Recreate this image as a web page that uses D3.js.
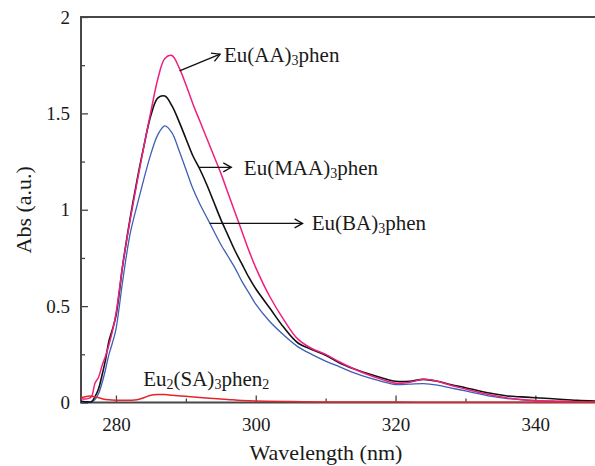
<!DOCTYPE html>
<meta charset="utf-8">
<head>
    <title>Absorption spectra</title>
    <script src="https://d3js.org/d3.v7.min.js"></script>
    <style>
        body {
            margin: 0;
            background: #fff;
        }

        svg {
            display: block;
        }

        text {
            font-family: 'Liberation Serif', 'Times New Roman', serif;
            fill: #1a1a1a;
        }

        .tick text {
            font-size: 19px;
        }

        .tick line {
            stroke: #444;
            stroke-width: 1.3;
        }

        .frame {
            stroke: #474747;
            stroke-width: 2;
        }

        text.title {
            font-size: 22px;
        }

        text.label {
            font-size: 21px;
        }

        .arrow {
            stroke: #111;
            stroke-width: 1.3;
            fill: none;
        }

        .curve {
            fill: none;
            stroke-linejoin: round;
        }
    </style>
</head>

<body>
<svg width="595" height="466"></svg>

<script>
    // wavelength grid (nm) shared by the three big spectra
    const wavelength = [275, 276, 276.5, 277, 277.5, 278, 278.5, 279, 279.5, 280,
        281, 282, 283, 284, 285, 286, 287, 288, 289, 290,
        291, 292, 293, 294, 295, 296, 297, 298, 299, 300,
        302, 304, 306, 308, 310, 312, 314, 316, 318, 320,
        322, 324, 326, 328, 330, 332, 334, 336, 338, 340,
        343, 346, 350];

    const absAA = [0.02, 0.02, 0.03, 0.10, 0.13, 0.19, 0.24, 0.30, 0.37, 0.46,
        0.72, 0.94, 1.14, 1.33, 1.51, 1.68, 1.785, 1.80, 1.74, 1.65,
        1.55, 1.46, 1.37, 1.28, 1.19, 1.09, 0.99, 0.89, 0.79, 0.70,
        0.55, 0.43, 0.33, 0.28, 0.25, 0.21, 0.175, 0.145, 0.12, 0.10,
        0.105, 0.12, 0.11, 0.088, 0.07, 0.052, 0.036, 0.024, 0.016, 0.011,
        0.007, 0.004, 0.002];

    const absMAA = [0.006, 0.003, 0.004, 0.03, 0.07, 0.14, 0.22, 0.32, 0.38, 0.45,
        0.72, 0.95, 1.15, 1.33, 1.49, 1.58, 1.59, 1.54, 1.46, 1.37,
        1.28, 1.21, 1.13, 1.04, 0.95, 0.87, 0.79, 0.72, 0.65, 0.59,
        0.49, 0.39, 0.31, 0.275, 0.245, 0.205, 0.175, 0.15, 0.128, 0.11,
        0.11, 0.12, 0.11, 0.092, 0.077, 0.06, 0.045, 0.034, 0.029, 0.025,
        0.018, 0.011, 0.006];

    const absBA = [0, 0, 0.003, 0.015, 0.045, 0.10, 0.17, 0.25, 0.31, 0.38,
        0.64, 0.87, 1.02, 1.16, 1.29, 1.39, 1.435, 1.40, 1.31, 1.21,
        1.11, 1.03, 0.96, 0.89, 0.82, 0.76, 0.70, 0.63, 0.57, 0.51,
        0.42, 0.35, 0.29, 0.25, 0.215, 0.185, 0.155, 0.13, 0.11, 0.093,
        0.095, 0.098, 0.09, 0.075, 0.06, 0.045, 0.03, 0.02, 0.014, 0.01,
        0.006, 0.004, 0.002];

    const wavelengthSA = [275, 276, 277, 278, 279, 280, 282, 283, 284, 285,
        286, 287, 288, 290, 292, 294, 296, 298, 300, 305,
        310, 320, 330, 340, 350];
    const absSA = [0.025, 0.033, 0.03, 0.02, 0.014, 0.012, 0.012, 0.014, 0.025, 0.038,
        0.042, 0.041, 0.038, 0.032, 0.026, 0.021, 0.016, 0.011, 0.008, 0.005,
        0.003, 0.002, 0.001, 0.001, 0.001];

    const xTicks = [280, 300, 320, 340];
    const xMinorTicks = [290, 310, 330];
    const yTicks = [0, 0.5, 1, 1.5, 2];
    const yMinorTicks = [0.25, 0.75, 1.25, 1.75];

    const svg = d3.select('svg');

    const plotLeft = 81, plotTop = 17, plotBottom = 402.5;

    const x = d3.scaleLinear().domain([275, 350]).range([plotLeft, plotLeft + 75 * 6.99]);
    const y = d3.scaleLinear().domain([0, 2]).range([plotBottom, plotTop]);

    // axes (ticks point into the plot)
    const xAxis = svg.append('g')
        .attr('transform', `translate(0, ${plotBottom})`)
        .call(d3.axisBottom(x).tickValues(xTicks).tickSize(-7).tickPadding(11).tickFormat(d3.format('d')));
    xAxis.select('.domain').remove();
    xAxis.selectAll('text').attr('dy', '0.9em');

    const xMinor = svg.append('g')
        .attr('transform', `translate(0, ${plotBottom})`)
        .call(d3.axisBottom(x).tickValues(xMinorTicks).tickSize(-4).tickFormat(''));
    xMinor.select('.domain').remove();

    const yAxis = svg.append('g')
        .attr('transform', `translate(${plotLeft}, 0)`)
        .call(d3.axisLeft(y).tickValues(yTicks).tickSize(-7).tickPadding(11).tickFormat(d => d));
    yAxis.select('.domain').remove();

    const yMinor = svg.append('g')
        .attr('transform', `translate(${plotLeft}, 0)`)
        .call(d3.axisLeft(y).tickValues(yMinorTicks).tickSize(-4).tickFormat(''));
    yMinor.select('.domain').remove();

    svg.append('path')
        .attr('class', 'frame')
        .attr('fill', 'none')
        .attr('d', `M595,${plotTop}H${plotLeft}V${plotBottom}H595`);

    // spectra
    const line = (xs, ys) => d3.line()
        .x((d, i) => x(xs[i]))
        .y(d => y(d))
        .curve(d3.curveCatmullRom.alpha(0.5))(ys);

    const series = [
        {values: absBA, xs: wavelength, color: '#3f5fb5', width: 1.3},
        {values: absMAA, xs: wavelength, color: '#111111', width: 1.6},
        {values: absAA, xs: wavelength, color: '#ee1f7f', width: 1.5},
        {values: absSA, xs: wavelengthSA, color: '#e3262b', width: 1.5}
    ];

    svg.append('clipPath').attr('id', 'plot')
        .append('rect').attr('x', plotLeft).attr('y', 0).attr('width', 600).attr('height', plotBottom + 2);

    svg.append('g').attr('clip-path', 'url(#plot)')
        .selectAll('path')
        .data(series)
        .enter()
        .append('path')
        .attr('class', 'curve')
        .attr('stroke', s => s.color)
        .attr('stroke-width', s => s.width)
        .attr('d', s => line(s.xs, s.values));

    // annotations, in data coordinates
    svg.append('defs').append('marker')
        .attr('id', 'head')
        .attr('markerUnits', 'userSpaceOnUse')
        .attr('markerWidth', 12).attr('markerHeight', 12)
        .attr('refX', 9).attr('refY', 6)
        .attr('orient', 'auto')
        .append('path')
        .attr('d', 'M1,1.5L9,6L1,10.5')
        .attr('fill', 'none')
        .attr('stroke', '#111')
        .attr('stroke-width', 1.3);

    const arrows = [
        {from: [289.1, 1.72], to: [294.9, 1.807]},
        {from: [291.9, 1.22], to: [296.5, 1.22]},
        {from: [293.4, 0.929], to: [306.7, 0.929]}
    ];

    svg.selectAll('.arrow')
        .data(arrows)
        .enter()
        .append('line')
        .attr('class', 'arrow')
        .attr('x1', a => x(a.from[0]))
        .attr('y1', a => y(a.from[1]))
        .attr('x2', a => x(a.to[0]))
        .attr('y2', a => y(a.to[1]))
        .attr('marker-end', 'url(#head)');

    // labels: plain text pieces and subscripts
    const labels = [
        {at: [295.45, 1.767], parts: [['Eu(AA)'], ['3', 1], ['phen']]},
        {at: [298.3, 1.18], parts: [['Eu(MAA)'], ['3', 1], ['phen']]},
        {at: [308.0, 0.894], parts: [['Eu(BA)'], ['3', 1], ['phen']]},
        {at: [283.9, 0.085], parts: [['Eu'], ['2', 1], ['(SA)'], ['3', 1], ['phen'], ['2', 1]]}
    ];

    labels.forEach(l => {
        const t = svg.append('text')
            .attr('class', 'label')
            .attr('x', x(l.at[0]))
            .attr('y', y(l.at[1]));
        let down = false;
        l.parts.forEach(p => {
            const sub = !!p[1];
            let dy = null;
            if (sub && !down) { dy = 3; down = true; }
            if (!sub && down) { dy = -3; down = false; }
            t.append('tspan')
                .attr('font-size', sub ? '14px' : null)
                .attr('dy', dy)
                .text(p[0]);
        });
    });

    // axis titles
    svg.append('text')
        .attr('class', 'title')
        .attr('transform', `translate(31, ${(plotTop + plotBottom) / 2}) rotate(-90)`)
        .attr('text-anchor', 'middle')
        .text('Abs (a.u.)');

    svg.append('text')
        .attr('class', 'title')
        .attr('x', 326)
        .attr('y', 460)
        .attr('text-anchor', 'middle')
        .text('Wavelength (nm)');
</script>
</body>
